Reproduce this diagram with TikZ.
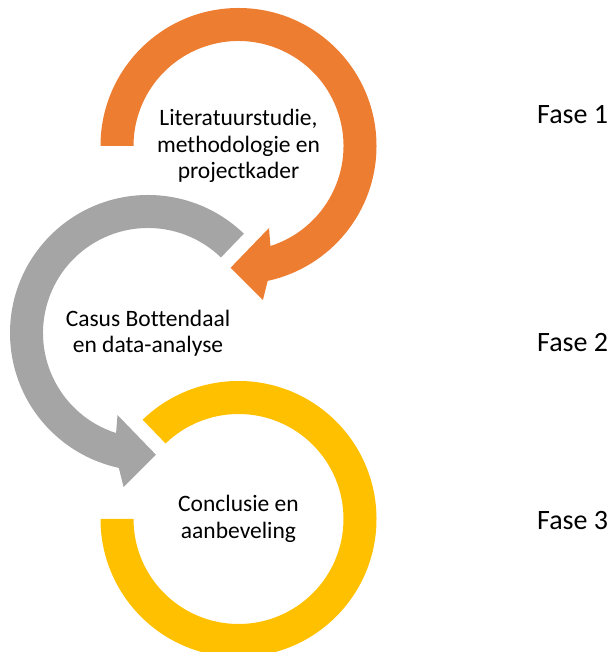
\documentclass[tikz,border=0pt]{standalone}
\definecolor{first}{RGB}{237,125,49}
\definecolor{second}{RGB}{165,165,165}
\definecolor{third}{RGB}{255,192,0}
\usepackage{fontspec}
\setmainfont{Carlito}[Ligatures=NoCommon]
\usepackage{tikz}
\usetikzlibrary{
	calc,
	positioning
}
\tikzset{
  % ring
	cstring1/.style   ={fill=first},
	cstring2/.style   ={fill=second},
	cstring3/.style   ={fill=third},
  % node
	csttext/.style    ={align=center,inner sep=0pt,font=\fontsize{23.5}{26.5}\selectfont},
	cstfase/.style    ={anchor=west,inner sep=0pt,font=\fontsize{28}{34}\selectfont}
}

\begin{document}
\begin{tikzpicture}[x=1pt,y=1pt]
	\useasboundingbox (0,0) rectangle (614,652);
	\coordinate (O1) at (238.5,506);
	\coordinate (O2) at (148,319);
	\coordinate (O3) at (238.5,133);
	% fase 1, met pijl
	\fill[cstring1] ($(O1)+(180:138)$) arc[start angle=180,end angle=-77.8,radius=138pt]
		-- ($(O1)+(-81:156)$) -- ($(O1)+(-93.7:122)$) -- ($(O1)+(-69.6:87.5)$)
		-- ($(O1)+(-72.3:105)$) arc[start angle=-72.3,end angle=180,radius=105pt] -- cycle;
	% fase 2, met pijl
	\fill[cstring2] ($(O2)+(46:138)$) arc[start angle=46,end angle=257.8,radius=138pt]
		-- ($(O2)+(261:156)$) -- ($(O2)+(273.7:122)$) -- ($(O2)+(249.6:87.5)$)
		-- ($(O2)+(252.3:105)$) arc[start angle=252.3,end angle=46,radius=105pt] -- cycle;
	% fase 3
	\fill[cstring3] ($(O3)+(134:138)$) arc[start angle=134,end angle=-180,radius=138pt]
		-- ($(O3)+(180:105)$) arc[start angle=-180,end angle=134,radius=105pt] -- cycle;
	\node[csttext] (lit) at (O1) {Literatuurstudie,\\methodologie en\\projectkader};
	\node[csttext] (casus) at (O2) {Casus Bottendaal\\en data-analyse};
	\node[csttext] (concl) at (O3) {Conclusie en\\aanbeveling};
	\node[cstfase] (fase1) at (537,537) {Fase 1};
	\node[cstfase] (fase2) at (537,309) {Fase 2};
	\node[cstfase] (fase3) at (537,131) {Fase 3};
\end{tikzpicture}
\end{document}
